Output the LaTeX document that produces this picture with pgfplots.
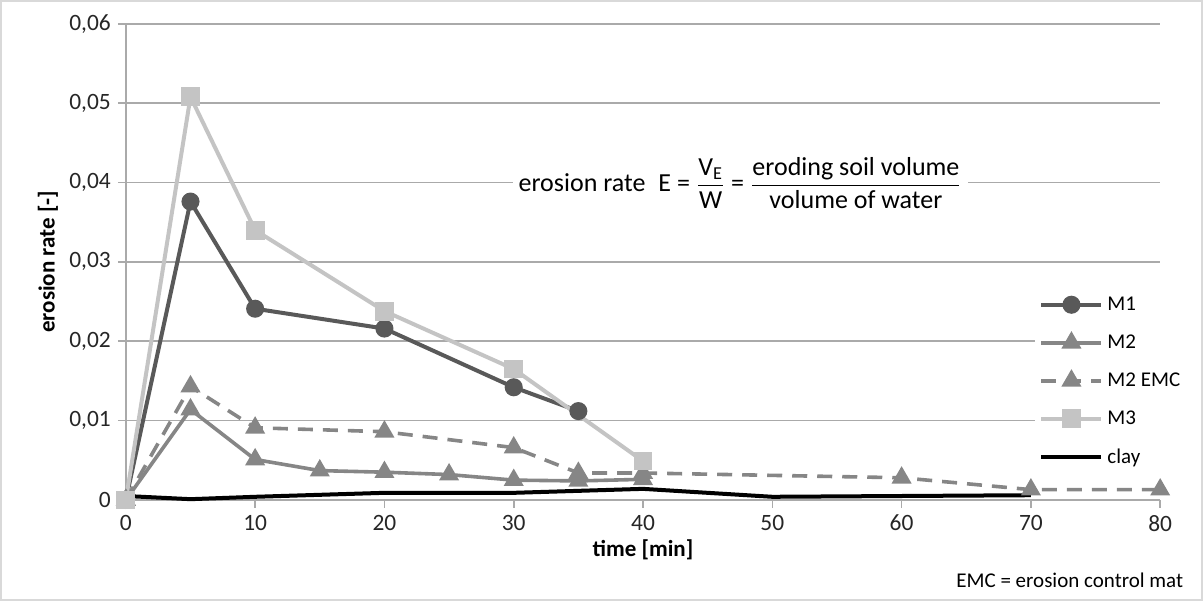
\documentclass[border=0pt]{standalone}
\usepackage{fontspec}
\setmainfont{Carlito}
\usepackage{amsmath}
\usepackage{pgfplots}
\pgfplotsset{compat=1.18}

\definecolor{mone}{RGB}{89,89,89}
\definecolor{mtwo}{RGB}{134,134,134}
\definecolor{mthree}{RGB}{196,196,196}
\definecolor{gridgray}{RGB}{170,170,170}
\definecolor{framegray}{RGB}{217,217,217}

\begin{document}
\begin{tikzpicture}
  % outer frame of the chart area
  \draw[framegray, line width=0.8pt] (0.5pt,0.5pt) rectangle (601pt,300pt);
  \begin{axis}[
      at={(63pt,50.5pt)}, anchor=south west,
      scale only axis,
      width=517pt, height=238pt,
      xmin=0, xmax=80, ymin=0, ymax=0.06,
      xtick={0,10,...,80},
      ytick={0,0.01,...,0.06},
      scaled y ticks=false,
      yticklabels={0,{0,01},{0,02},{0,03},{0,04},{0,05},{0,06}},
      /pgf/number format/assume math mode=true,
      axis x line*=bottom, axis y line*=left,
      axis line style={draw=gridgray, line width=0.8pt, -},
      tick align=outside, major tick length=4pt,
      tick style={draw=gridgray, line width=0.8pt},
      ymajorgrids, grid style={draw=gridgray, line width=0.8pt},
      tick label style={font=\fontsize{11.7}{13}\selectfont, text=black!85},
      xlabel={\textbf{time [min]}},
      ylabel={\textbf{erosion rate [-]}},
      every axis x label/.style={at={(rel axis cs:0.5,0)}, yshift=-25pt, anchor=center},
      every axis y label/.style={at={(rel axis cs:0,0.5)}, xshift=-39pt, rotate=90, anchor=center},
      label style={font=\fontsize{11.5}{13}\selectfont},
      legend cell align=left,
      legend style={at={(0.879,0.445)}, anchor=north west, draw=none, fill=white,
                    font=\fontsize{10.5}{12}\selectfont, row sep=6.7pt, inner sep=2pt},
      legend image code/.code={\draw[mark repeat=2,mark phase=2,#1] plot coordinates {(0pt,0pt) (15pt,0pt) (30pt,0pt)};},
      clip=false,
    ]
    \addplot[mone, line width=2pt, mark=*, mark size=3.5pt, mark options={solid, fill=mone}]
      coordinates {(0,0) (5,0.0376) (10,0.0241) (20,0.0216) (30,0.0142) (35,0.0112)};
    \addplot[mtwo, line width=1.8pt, mark=triangle*, mark size=4pt, mark options={solid, fill=mtwo}]
      coordinates {(0,0) (5,0.0114) (10,0.0051) (15,0.0037) (20,0.0035) (25,0.0032) (30,0.0025) (35,0.0024) (40,0.0026)};
    \addplot[mtwo, line width=1.8pt, dash pattern=on 7.5pt off 5pt, mark=triangle*, mark size=4pt, mark options={solid, fill=mtwo}]
      coordinates {(0,0) (5,0.0143) (10,0.0091) (20,0.0086) (30,0.0066) (35,0.0034) (40,0.0034) (60,0.0028) (70,0.0013) (80,0.0013)};
    \addplot[mthree, line width=2pt, mark=square*, mark size=3.7pt, mark options={solid, fill=mthree}]
      coordinates {(0,0) (5,0.0508) (10,0.034) (20,0.0238) (30,0.0165) (40,0.0049)};
    \addplot[black, line width=2pt, no marks]
      coordinates {(0,0.0005) (5,0.0001) (10,0.0004) (20,0.0009) (30,0.0009) (40,0.0014) (50,0.0004) (60,0.0005) (70,0.0006)};
    \legend{M1, M2, M2 EMC, M3, clay}
    \node[fill=white, inner sep=3pt, font=\fontsize{13}{15}\selectfont]
      at (rel axis cs:0.594,0.666)
      {erosion rate\enspace E = $\dfrac{\text{V}_{\text{E}}}{\text{W}}$ = $\dfrac{\text{eroding soil volume}}{\text{volume of water}}$};
  \end{axis}
  \node[anchor=east, font=\fontsize{10.5}{12}\selectfont] at (595pt,10.5pt) {EMC = erosion control mat};
\end{tikzpicture}
\end{document}
